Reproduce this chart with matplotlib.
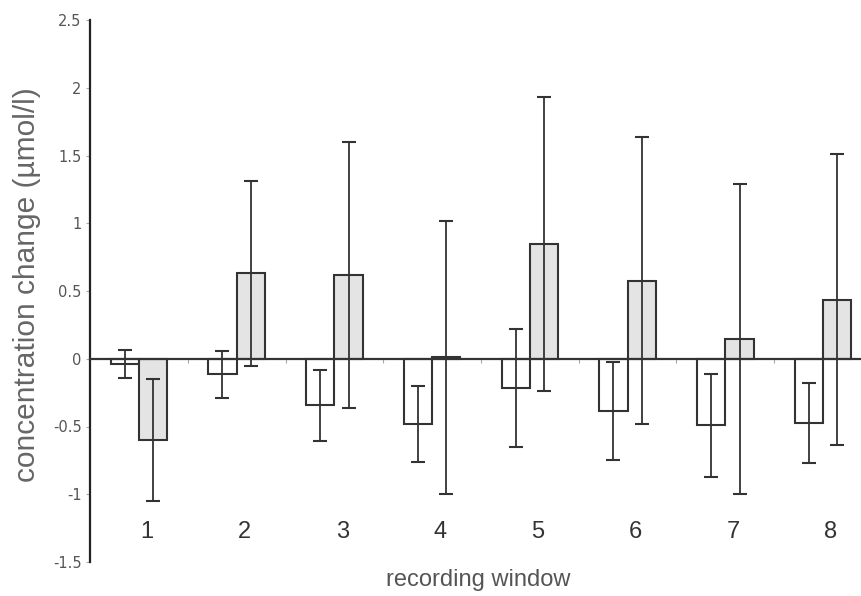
import numpy as np
from matplotlib import pyplot as plt

##### DATA #####
windows = [1, 2, 3, 4, 5, 6, 7, 8]
white_mean = [-0.04, -0.115, -0.345, -0.48, -0.215, -0.385, -0.49, -0.475]
white_err = [0.105, 0.175, 0.26, 0.28, 0.435, 0.36, 0.38, 0.295]
grey_mean = [-0.60, 0.63, 0.62, 0.01, 0.845, 0.575, 0.145, 0.435]
grey_err = [0.45, 0.68, 0.98, 1.01, 1.085, 1.06, 1.145, 1.075]
yticks = [-1.5, -1, -0.5, 0, 0.5, 1, 1.5, 2, 2.5]
##### END DATA #####

fig = plt.figure(figsize=(8.61, 5.96), dpi=100)
ax = fig.add_axes([90/861, 34/596, 782/861, 542/596])

x = np.array(windows)
w = 0.29
ekw = dict(ecolor='#333333', elinewidth=1.3, capsize=5, capthick=1.5, zorder=3)
ax.bar(x - w/2, white_mean, w, color='white', edgecolor='#333333', lw=1.5, zorder=2)
ax.bar(x + w/2, grey_mean, w, color='#e4e4e4', edgecolor='#333333', lw=1.5, zorder=2)
ax.errorbar(x - w/2, white_mean, yerr=white_err, fmt='none', **ekw)
ax.errorbar(x + w/2, grey_mean, yerr=grey_err, fmt='none', **ekw)

ax.set_xlim(0.5, 8.5)
ax.set_ylim(-1.5, 2.5)

# zero line acts as the x axis, small ticks between groups
ax.spines['bottom'].set_position(('data', 0))
ax.spines['bottom'].set_linewidth(1.6)
ax.spines['bottom'].set_color('#333333')
ax.spines['bottom'].set_zorder(4)
ax.spines['top'].set_visible(False)
ax.spines['right'].set_visible(False)
ax.spines['left'].set_linewidth(1.6)
ax.spines['left'].set_color('#222222')
ax.set_xticks(np.arange(1.5, 8.5, 1))
ax.set_xticklabels([])
ax.tick_params(axis='x', length=3, color='#aaaaaa', direction='out')

ax.set_yticks(yticks)
ax.set_yticklabels([('%g' % v) for v in yticks])
ax.tick_params(axis='y', length=3, color='#aaaaaa', labelsize=10.5, labelcolor='#555555', pad=3)

for i in windows:
    ax.text(i + 0.08, -1.28, str(i), ha='center', va='center', fontsize=17,
            color='#333333', family='Liberation Sans')

fig.text(27/861, 1 - 285/596, 'concentration change (\u00b5mol/l)', rotation=90,
         ha='center', va='center', fontsize=21.5, color='#666666', family='Liberation Sans')
fig.text(478/861, 1 - 580/596, 'recording window', ha='center', va='center',
         fontsize=17, color='#555555', family='Liberation Sans')

fig.savefig('out.png', dpi=100)
